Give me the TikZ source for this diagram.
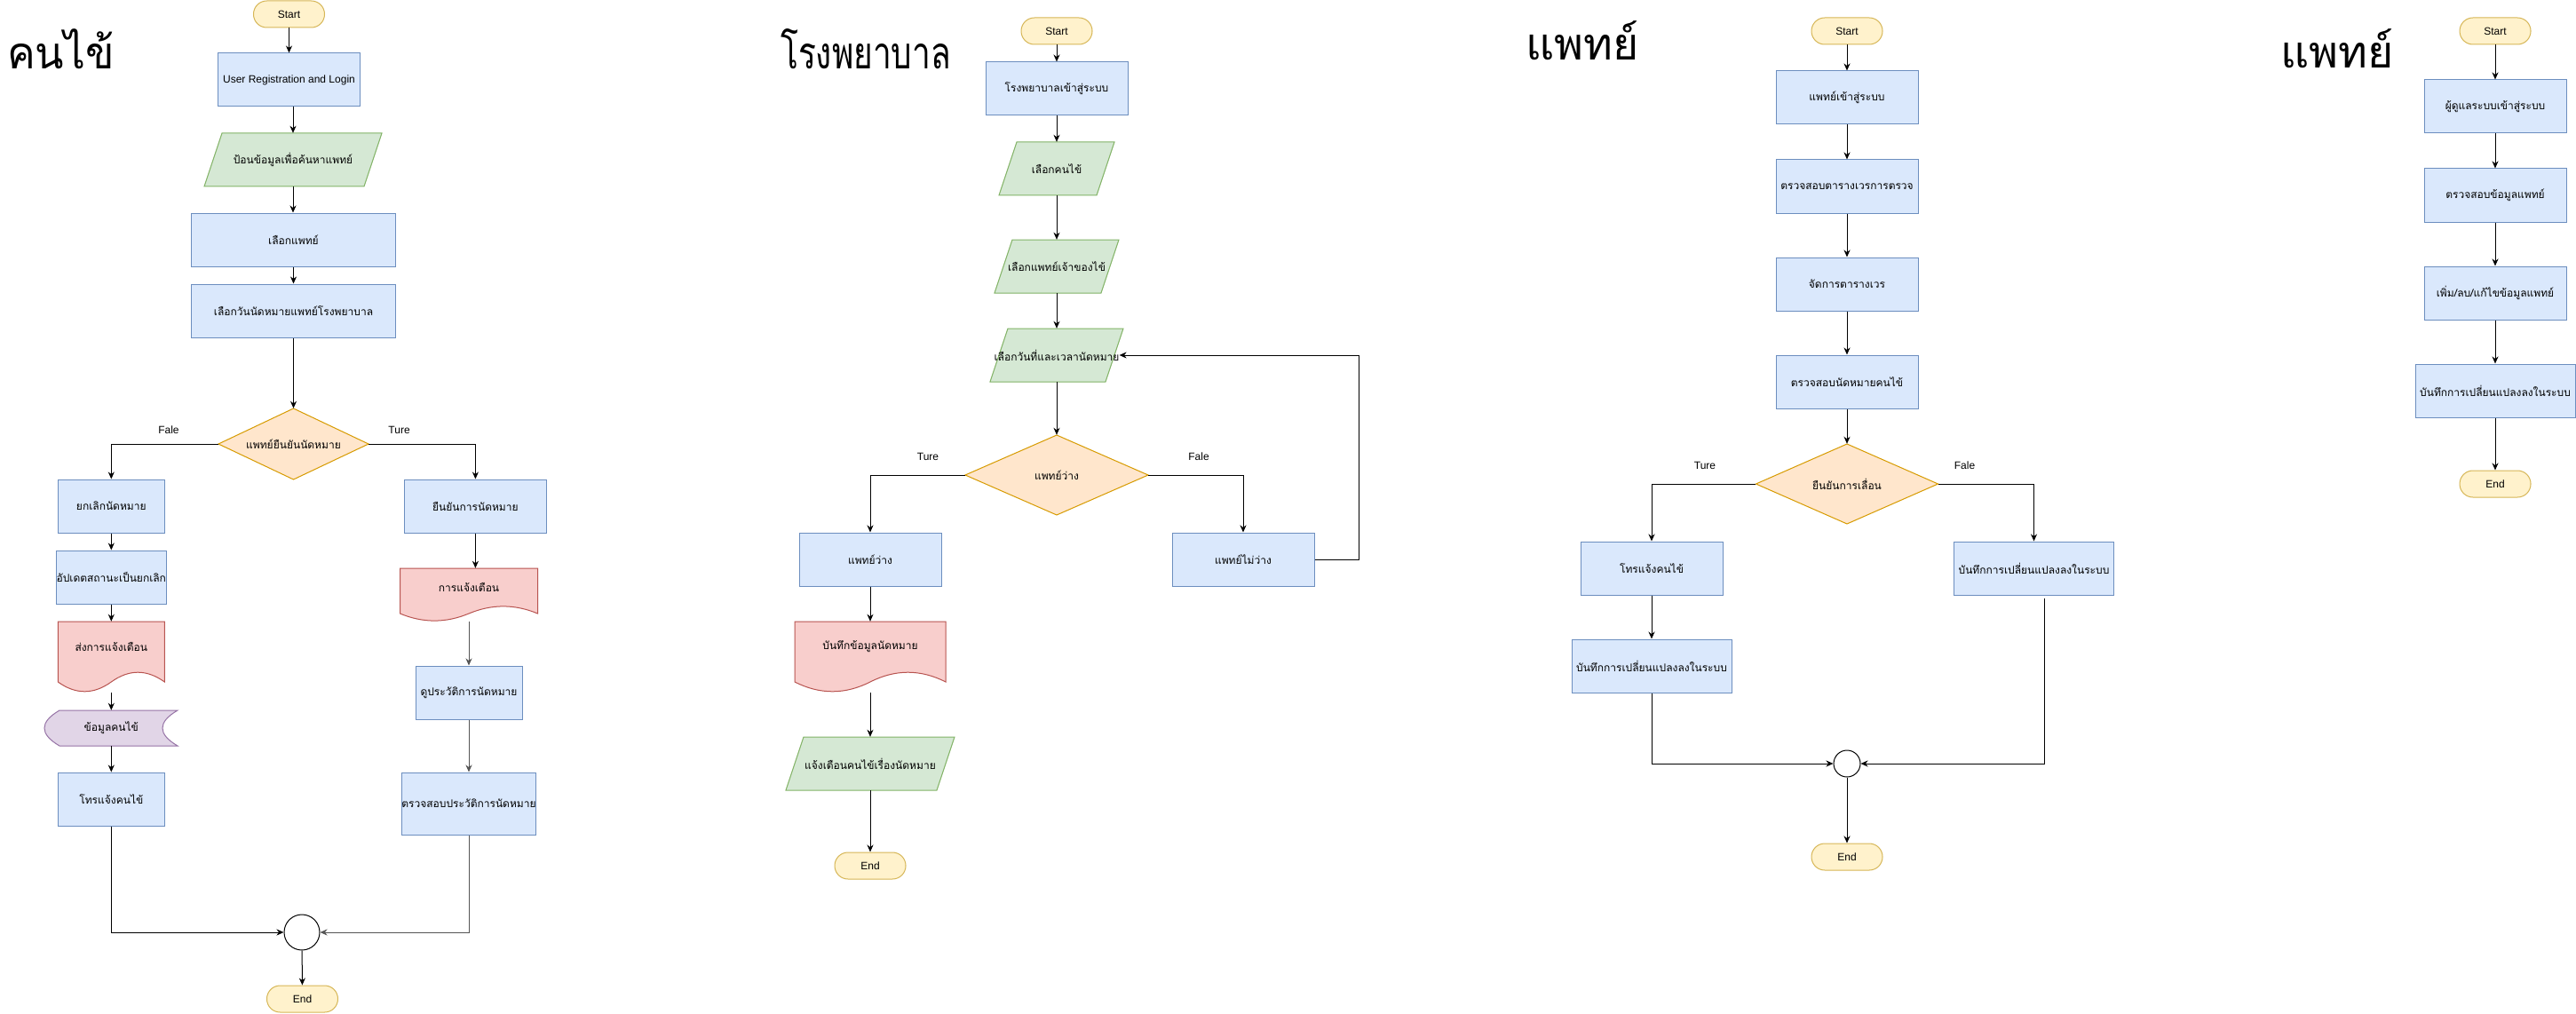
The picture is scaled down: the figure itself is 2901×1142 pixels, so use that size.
\documentclass[tikz,border=0pt]{standalone}
\usepackage{fontspec}
\setmainfont{Liberation Sans}
\newfontfamily\thaifont[Script=Thai]{Loma}
\newfontfamily\thaiA[Script=Thai,FakeStretch=0.95]{Loma}
\newfontfamily\thaiB[Script=Thai,FakeStretch=0.74]{Loma}
\usetikzlibrary{arrows.meta,calc}
\definecolor{blueF}{HTML}{DAE8FC}\definecolor{blueD}{HTML}{6C8EBF}
\definecolor{greenF}{HTML}{D5E8D4}\definecolor{greenD}{HTML}{82B366}
\definecolor{redF}{HTML}{F8CECC}\definecolor{redD}{HTML}{B85450}
\definecolor{orF}{HTML}{FFE6CC}\definecolor{orD}{HTML}{D79B00}
\definecolor{yelF}{HTML}{FFF2CC}\definecolor{yelD}{HTML}{D6B656}
\definecolor{purF}{HTML}{E1D5E7}\definecolor{purD}{HTML}{9673A6}
\definecolor{lineG}{HTML}{555555}
\tikzset{
  thtxt/.style={font=\thaifont\fontsize{12}{14}\selectfont},
  lttxt/.style={font=\fontsize{12}{14}\selectfont},
  proc/.style={thtxt, draw=blueD, fill=blueF, line width=1pt, inner sep=0pt, minimum width=#1, minimum height=60},
  proc/.default=160,
  term/.style={lttxt, draw=yelD, fill=yelF, line width=1pt, rounded corners=14.9pt, inner sep=0pt, minimum width=80, minimum height=30},
  txt/.style={thtxt, inner sep=0pt},
  paraS/.style={draw=greenD, fill=greenF, line width=1pt},
  decS/.style={draw=orD, fill=orF, line width=1pt},
  docS/.style={draw=redD, fill=redF, line width=1pt},
  storS/.style={draw=purD, fill=purF, line width=1pt},
  junc/.style={circle, draw=black, fill=white, line width=1pt, inner sep=0pt, minimum size=#1},
  lbl/.style={lttxt, inner sep=0pt},
  ttl/.style={font=\thaifont\fontsize{50}{56}\selectfont, inner sep=0pt, anchor=base west},
  arr/.style={-{Stealth[length=8pt,width=7pt,inset=2.5pt]}, line width=1pt, draw=black},
  arrg/.style={arr, draw=lineG},
  ln/.style={line width=1pt, draw=black},
}
% name, cx, cy, w, h, text   (skew 20)
\newcommand\paral[6]{%
  \draw[paraS] ({#2-#4/2+20},{#3-#5/2}) -- ({#2+#4/2},{#3-#5/2}) -- ({#2+#4/2-20},{#3+#5/2}) -- ({#2-#4/2},{#3+#5/2}) -- cycle;
  \node[txt, minimum width={#4-20}, minimum height=#5] (#1) at (#2,#3) {#6};}
% name, cx, cy, w, h, text
\newcommand\decision[6]{%
  \draw[decS] ({#2-#4/2},#3) -- (#2,{#3-#5/2}) -- ({#2+#4/2},#3) -- (#2,{#3+#5/2}) -- cycle;
  \node[txt, minimum width=#4, minimum height=#5] (#1) at (#2,#3) {#6};}
% name, cx, top, w, h, text
\newcommand\docshape[6]{%
  \begin{scope}[shift={({#2-#4/2},#3)}]
    \draw[docS] (0,0) -- (#4,0) -- (#4,{0.85*#5})
      .. controls ({0.8333*#4},{0.67*#5}) and ({0.6667*#4},{0.67*#5}) .. ({0.5*#4},{0.85*#5})
      .. controls ({0.3333*#4},{1.03*#5}) and ({0.1667*#4},{1.03*#5}) .. (0,{0.85*#5}) -- cycle;
  \end{scope}
  \node[txt, minimum width=#4, minimum height={0.7*#5}] (#1) at (#2,{#3+0.35*#5}) {#6};
  \coordinate (#1-b) at (#2,{#3+#5});}
\begin{document}
\begin{tikzpicture}[x=1pt,y=-1pt]
\useasboundingbox[fill=white] (0,0) rectangle (2901,1142);

% ---------------- Column 1: patient ----------------
\node[ttl, font=\thaiA\fontsize{50}{56}\selectfont] (t1) at (8,78) {คนไข้};
\node[term] (s1) at (325.5,16) {Start};
\node[proc=160, lttxt] (u1) at (325.5,90) {User Registration and Login};
\paral{p1}{330}{180}{200}{60}{ป้อนข้อมูลเพื่อค้นหาแพทย์}
\node[proc=230] (b1) at (330.5,270) {เลือกแพทย์};
\node[proc=230] (b2) at (330.5,350) {เลือกวันนัดหมายแพทย์โรงพยาบาล};
\decision{d1}{330.5}{500}{169}{80}{แพทย์ยืนยันนัดหมาย}
\node[lbl] (lf1) at (190,484) {Fale};
\node[lbl] (lt1) at (449.6,484) {Ture};
\node[proc=120] (c1) at (125.3,570) {ยกเลิกนัดหมาย};
\node[proc=120] (c2) at (125.3,650) {อัปเดตสถานะเป็นยกเลิก};
\docshape{c3}{125.3}{700}{120}{80}{ส่งการแจ้งเตือน}
\draw[storS] (67,800) -- (200,800) .. controls (177.3,813.3) and (177.3,826.7) .. (200,840)
  -- (67,840) .. controls (44.3,826.7) and (44.3,813.3) .. (67,800) -- cycle;
\node[txt, minimum width=150, minimum height=40] (c4) at (125.3,820) {ข้อมูลคนไข้};
\node[proc=120] (c5) at (125.3,900) {โทรแจ้งคนไข้};
\node[proc=160] (r1) at (535.4,570) {ยืนยันการนัดหมาย};
\docshape{r2}{528}{640}{155}{60}{การแจ้งเตือน}
\node[proc=120] (r3) at (528,780) {ดูประวัติการนัดหมาย};
\node[proc=145, minimum height=70] (r4) at (528,905) {ตรวจสอบประวัติการนัดหมาย};
\node[junc=40] (j1) at (340,1050) {};
\node[term] (e1) at (340.5,1125) {End};

\draw[arr] (s1.south) -- (s1.south |- u1.north);
\draw[arr] (p1.north |- u1.south) -- (p1.north);
\draw[arr] (p1.south) -- (p1.south |- b1.north);
\draw[arr] (b1) -- (b2);
\draw[arr] (b2) -- (d1.north);
\draw[arr] (d1.west) -| (c1.north);
\draw[arr] (d1.east) -| (r1.north);
\draw[arr] (c1) -- (c2);
\draw[arr] (c2) -- (c3.north);
\draw[arr] (c3-b) -- (c4.north);
\draw[arr] (c4) -- (c5);
\draw[arr] (c5.south) |- (j1.west);
\draw[arr] (r1.south) -- (r1.south |- r2.north);
\draw[arrg] (r2-b) -- (r3.north);
\draw[arrg] (r3) -- (r4);
\draw[arrg] (r4.south) |- (j1.east);
\draw[arr] (j1) -- (e1);

% ---------------- Column 2: hospital ----------------
\node[ttl, font=\thaiB\fontsize{50}{56}\selectfont] (t2) at (879,78) {โรงพยาบาล};
\node[term] (s2) at (1190,35) {Start};
\node[proc=160] (h1) at (1190,100) {โรงพยาบาลเข้าสู่ระบบ};
\paral{h2}{1190}{190}{130}{60}{เลือกคนไข้}
\paral{h3}{1190}{300}{140}{60}{เลือกแพทย์เจ้าของไข้}
\paral{h4}{1190}{400}{150}{60}{เลือกวันที่และเวลานัดหมาย}
\decision{hd}{1190}{535}{206}{90}{แพทย์ว่าง}
\node[lbl] (lt2) at (1045,514.5) {Ture};
\node[lbl] (lf2) at (1350,514.5) {Fale};
\node[proc=160] (h5) at (980,630) {แพทย์ว่าง};
\node[proc=160] (h6) at (1400,630) {แพทย์ไม่ว่าง};
\docshape{h7}{980}{700}{170}{80}{บันทึกข้อมูลนัดหมาย}
\paral{h8}{980}{860}{190}{60}{แจ้งเตือนคนไข้เรื่องนัดหมาย}
\node[term] (e2) at (980,975) {End};

\draw[arr] (s2) -- (h1);
\draw[arr] (h1) -- (h2);
\draw[arr] (h2) -- (h3);
\draw[arr] (h3) -- (h4);
\draw[arr] (h4) -- (hd.north);
\draw[arr] (hd.west) -| (h5.north);
\draw[arr] (hd.east) -| (h6.north);
\draw[arr] (h5) -- (h7.north);
\draw[arr] (h7-b) -- (h8.north);
\draw[arr] (h8) -- (e2);
\draw[arr] (h6.east) -- ++(50,0) |- (h4.east);

% ---------------- Column 3: doctor ----------------
\node[ttl] (t3) at (1718,68) {แพทย์};
\node[term] (s3) at (2080,35) {Start};
\node[proc=160] (m1) at (2080,110) {แพทย์เข้าสู่ระบบ};
\node[proc=160] (m2) at (2080,210) {ตรวจสอบตารางเวรการตรวจ};
\node[proc=160] (m3) at (2080,320) {จัดการตารางเวร};
\node[proc=160] (m4) at (2080,430) {ตรวจสอบนัดหมายคนไข้};
\decision{md}{2080}{545}{205}{90}{ยืนยันการเลื่อน}
\node[lbl] (lt3) at (1920,524) {Ture};
\node[lbl] (lf3) at (2212.5,524) {Fale};
\node[proc=160] (m5) at (1860,640) {โทรแจ้งคนไข้};
\node[proc=180] (m6) at (1860,750) {บันทึกการเปลี่ยนแปลงลงในระบบ};
\node[proc=180] (m7) at (2290.5,640) {บันทึกการเปลี่ยนแปลงลงในระบบ};
\node[junc=30] (j3) at (2080,860) {};
\node[term] (e3) at (2080,965) {End};

\draw[arr] (s3) -- (m1);
\draw[arr] (m1) -- (m2);
\draw[arr] (m2) -- (m3);
\draw[arr] (m3) -- (m4);
\draw[arr] (m4) -- (md.north);
\draw[arr] (md.west) -| (m5.north);
\draw[arr] (md.east) -| (m7.north);
\draw[arr] (m5) -- (m6);
\draw[arr] (m6.south) |- (j3.west);
\draw[arr] ([xshift=11.5pt,yshift=-3pt]m7.south) |- (j3.east);
\draw[arr] (j3) -- (e3);

% ---------------- Column 4: admin ----------------
\node[ttl] (t4) at (2568,77) {แพทย์};
\node[term] (s4) at (2810,35) {Start};
\node[proc=160] (a1) at (2810,120) {ผู้ดูแลระบบเข้าสู่ระบบ};
\node[proc=160] (a2) at (2810,220) {ตรวจสอบข้อมูลแพทย์};
\node[proc=160] (a3) at (2810,330) {เพิ่ม/ลบ/แก้ไขข้อมูลแพทย์};
\node[proc=180] (a4) at (2810,440) {บันทึกการเปลี่ยนแปลงลงในระบบ};
\node[term] (e4) at (2810,545) {End};

\draw[arr] (s4) -- (a1);
\draw[arr] (a1) -- (a2);
\draw[arr] (a2) -- (a3);
\draw[arr] (a3) -- (a4);
\draw[arr] (a4) -- (e4);
\end{tikzpicture}
\end{document}
